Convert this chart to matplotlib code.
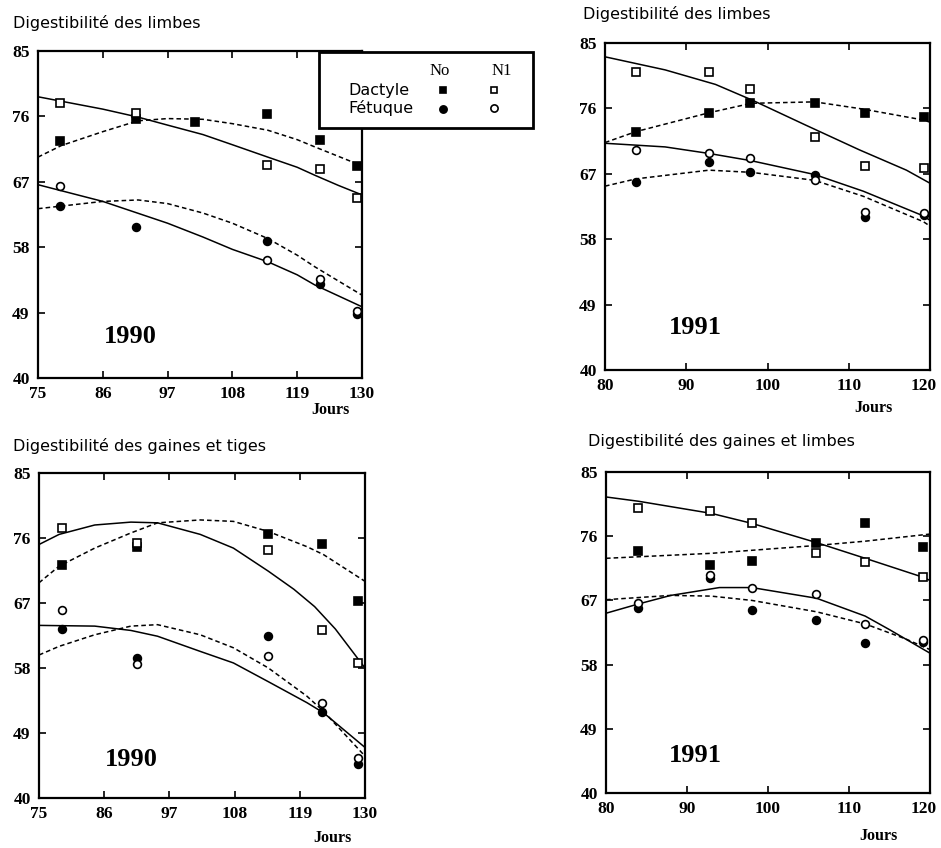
import matplotlib
matplotlib.use("Agg")
import matplotlib.pyplot as plt
import matplotlib.transforms as mtransforms
from matplotlib.lines import Line2D
from matplotlib.patches import Rectangle

W, H = 941, 848

# ---------------- data ----------------
yticks = [40, 49, 58, 67, 76, 85]
xticks_1990 = [75, 86, 97, 108, 119, 130]
xticks_1991 = [80, 90, 100, 110, 120]

# Panel A : 1990, digestibilité des limbes
A_D_No_x = [78.7, 91.7, 101.6, 113.8, 122.9, 129.1]
A_D_No_y = [72.6, 75.6, 75.2, 76.3, 72.7, 69.2]
A_D_N1_x = [78.7, 91.7, 113.8, 122.9, 129.1]
A_D_N1_y = [77.8, 76.5, 69.3, 68.8, 64.8]
A_F_No_x = [78.7, 91.7, 113.8, 122.9, 129.1]
A_F_No_y = [63.7, 60.8, 58.9, 53.0, 48.8]
A_F_N1_x = [78.7, 113.8, 122.9, 129.1]
A_F_N1_y = [66.4, 56.2, 53.6, 49.2]
A_cD_N1_x = [75, 86, 92, 97, 103, 108, 114, 119, 122, 126, 130]
A_cD_N1_y = [78.7, 77.0, 75.9, 74.8, 73.5, 72.1, 70.4, 69.0, 67.9, 66.5, 65.2]
A_cD_No_x = [75, 79, 86, 92, 97, 103, 108, 114, 119, 122, 130]
A_cD_No_y = [70.4, 72.0, 73.9, 75.4, 75.7, 75.6, 75.0, 74.1, 72.8, 71.8, 69.2]
A_cF_N1_x = [75, 86, 97, 103, 108, 114, 119, 122, 130]
A_cF_N1_y = [66.6, 64.3, 61.3, 59.4, 57.7, 56.0, 54.2, 52.8, 49.8]
A_cF_No_x = [75, 86, 92, 97, 103, 108, 114, 119, 122, 130]
A_cF_No_y = [63.3, 64.3, 64.5, 64.0, 62.7, 61.3, 59.2, 56.9, 55.3, 51.4]

# Panel B : 1991, digestibilité des limbes
B_x = [83.8, 92.8, 97.9, 105.9, 112.0, 119.2]
B_D_No_y = [72.8, 75.4, 76.8, 76.8, 75.4, 74.8]
B_D_N1_y = [81.0, 81.0, 78.7, 72.0, 68.1, 67.8]
B_F_No_y = [65.9, 68.6, 67.2, 66.8, 61.0, 61.3]
B_F_N1_y = [70.3, 69.9, 69.2, 66.2, 61.8, 61.6]
B_cD_N1_x = [80, 87.4, 93.6, 98.2, 104.7, 111.3, 117.1, 120]
B_cD_N1_y = [83.1, 81.3, 79.3, 77.1, 73.7, 70.3, 67.5, 65.7]
B_cD_No_x = [80, 83.8, 92.8, 98, 105.8, 111.8, 119.2, 120]
B_cD_No_y = [71.3, 72.8, 75.4, 76.7, 76.9, 75.9, 74.4, 74.1]
B_cF_N1_x = [80, 87.4, 92.8, 98, 105.8, 111.8, 119.2, 120]
B_cF_N1_y = [71.2, 70.7, 69.8, 68.8, 66.9, 64.6, 61.2, 60.6]
B_cF_No_x = [80, 83.8, 92.8, 98, 105.8, 111.8, 119.2, 120]
B_cF_No_y = [65.3, 66.3, 67.5, 67.2, 66.1, 63.9, 60.4, 59.8]

# Panel C : 1990, digestibilité des gaines et tiges
C_x = [78.8, 91.6, 113.7, 122.8, 128.9]
C_D_No_y = [72.3, 74.8, 76.6, 75.2, 67.3]
C_D_N1_y = [77.4, 75.3, 74.4, 63.3, 58.7]
C_F_No_y = [63.4, 59.4, 62.4, 51.9, 44.7]
C_F_N1_y = [66.1, 58.5, 59.6, 53.2, 45.5]
C_cD_N1_x = [75, 78.4, 84.4, 90.5, 95, 102.2, 107.8, 113.7, 118, 121.5, 125, 130]
C_cD_N1_y = [75.1, 76.5, 77.8, 78.2, 78.1, 76.5, 74.6, 71.4, 68.9, 66.5, 63.4, 58.0]
C_cD_No_x = [75, 78.4, 84.4, 90.5, 95, 102.2, 107.8, 113.7, 120.2, 123, 130]
C_cD_No_y = [69.8, 72.1, 74.6, 76.7, 78.1, 78.5, 78.3, 76.9, 74.8, 73.7, 70.0]
C_cF_N1_x = [75, 84.4, 90.5, 95, 102.2, 107.8, 113.7, 120.2, 123, 130]
C_cF_N1_y = [63.9, 63.8, 63.2, 62.4, 60.3, 58.7, 56.1, 53.2, 51.8, 47.0]
C_cF_No_x = [75, 78.4, 84.4, 90.5, 95, 102.2, 107.8, 113.7, 120.2, 123, 130]
C_cF_No_y = [59.8, 61.0, 62.6, 63.8, 64.0, 62.6, 60.8, 58.0, 54.1, 52.0, 45.8]

# Panel D : 1991, digestibilité des gaines et limbes
D_x = [83.9, 92.9, 98.0, 105.9, 112.0, 119.1]
D_D_No_y = [73.9, 72.0, 72.5, 75.1, 77.9, 74.5]
D_D_N1_y = [80.0, 79.6, 77.9, 73.6, 72.4, 70.3]
D_F_No_y = [65.9, 70.2, 65.7, 64.3, 61.0, 61.2]
D_F_N1_y = [66.7, 70.5, 68.7, 67.9, 63.7, 61.5]
D_cD_N1_x = [80, 84, 93, 98, 106, 112, 119, 120]
D_cD_N1_y = [81.5, 80.9, 79.2, 77.8, 75.1, 72.9, 70.3, 69.8]
D_cD_No_x = [80, 93, 106, 112, 120]
D_cD_No_y = [72.9, 73.6, 74.7, 75.3, 76.3]
D_cF_N1_x = [80, 84, 88, 94, 98, 106, 112, 115, 120]
D_cF_N1_y = [65.2, 66.5, 67.7, 68.8, 68.8, 67.3, 64.8, 62.9, 59.6]
D_cF_No_x = [80, 88, 93, 98, 106, 112, 117, 120]
D_cF_No_y = [67.1, 67.7, 67.6, 67.0, 65.4, 63.7, 61.6, 60.1]

titles = ["Digestibilité des limbes", "Digestibilité des limbes",
          "Digestibilité des gaines et tiges", "Digestibilité des gaines et limbes"]
years = ["1990", "1991", "1990", "1991"]

# ---------------- figure ----------------
fig = plt.figure(figsize=(W / 100, H / 100), dpi=100)
fig.patch.set_facecolor("white")

def fx(px):
    return px / W

def fy(py):
    return 1 - py / H

serif = "Liberation Serif"
sans = "DejaVu Sans"

# axes boxes in pixel coords: left, top, right, bottom
boxes = [(38, 51, 362, 378), (605, 43, 930, 370), (39, 473, 365, 798), (606, 472, 930, 793)]
xlims = [(75, 130), (80, 120), (75, 130), (80, 120)]
xtick_sets = [xticks_1990, xticks_1991, xticks_1990, xticks_1991]

panels = [
    dict(pts=[(A_D_No_x, A_D_No_y, "s", True), (A_D_N1_x, A_D_N1_y, "s", False),
              (A_F_No_x, A_F_No_y, "o", True), (A_F_N1_x, A_F_N1_y, "o", False)],
         curves=[(A_cD_N1_x, A_cD_N1_y, "-"), (A_cD_No_x, A_cD_No_y, "--"),
                 (A_cF_N1_x, A_cF_N1_y, "-"), (A_cF_No_x, A_cF_No_y, "--")]),
    dict(pts=[(B_x, B_D_No_y, "s", True), (B_x, B_D_N1_y, "s", False),
              (B_x, B_F_No_y, "o", True), (B_x, B_F_N1_y, "o", False)],
         curves=[(B_cD_N1_x, B_cD_N1_y, "-"), (B_cD_No_x, B_cD_No_y, "--"),
                 (B_cF_N1_x, B_cF_N1_y, "-"), (B_cF_No_x, B_cF_No_y, "--")]),
    dict(pts=[(C_x, C_D_No_y, "s", True), (C_x, C_D_N1_y, "s", False),
              (C_x, C_F_No_y, "o", True), (C_x, C_F_N1_y, "o", False)],
         curves=[(C_cD_N1_x, C_cD_N1_y, "-"), (C_cD_No_x, C_cD_No_y, "--"),
                 (C_cF_N1_x, C_cF_N1_y, "-"), (C_cF_No_x, C_cF_No_y, "--")]),
    dict(pts=[(D_x, D_D_No_y, "s", True), (D_x, D_D_N1_y, "s", False),
              (D_x, D_F_No_y, "o", True), (D_x, D_F_N1_y, "o", False)],
         curves=[(D_cD_N1_x, D_cD_N1_y, "-"), (D_cD_No_x, D_cD_No_y, "--"),
                 (D_cF_N1_x, D_cF_N1_y, "-"), (D_cF_No_x, D_cF_No_y, "--")]),
]

title_pos = [(13, 28), (583, 19.5), (13, 450.5), (588, 446.5)]
jours_pos = [(330, 410), (873, 408), (332, 838), (878, 836)]
year_pos = [(0.284, 0.128), (0.277, 0.131), (0.282, 0.12), (0.275, 0.118)]

for i, (l, t, r, b) in enumerate(boxes):
    ax = fig.add_axes([fx(l), fy(b), fx(r) - fx(l), (b - t) / H])
    ax.set_xlim(*xlims[i])
    ax.set_ylim(40, 85)
    ax.set_xticks(xtick_sets[i])
    ax.set_yticks(yticks)
    ax.tick_params(direction="in", top=True, right=True, length=5, width=1.2,
                   labelsize=12.5, pad=6)
    for lab in ax.get_xticklabels() + ax.get_yticklabels():
        lab.set_fontfamily(serif)
        lab.set_fontweight("bold")
    if xlims[i][1] == 120:
        # keep the last label inside the figure
        last = ax.get_xticklabels()[-1]
        last.set_transform(last.get_transform() +
                           mtransforms.ScaledTranslation(-6 / 100, 0, fig.dpi_scale_trans))
    for sp in ax.spines.values():
        sp.set_linewidth(1.6)

    for cx, cy, ls in panels[i]["curves"]:
        if ls == "--":
            ax.plot(cx, cy, color="black", lw=1.1, ls=(0, (3, 2)))
        else:
            ax.plot(cx, cy, color="black", lw=1.1)
    for px_, py_, mk, filled in panels[i]["pts"]:
        ax.plot(px_, py_, ls="none", marker=mk, ms=5.4 if mk == "s" else 5.6,
                mfc="black" if filled else "white", mec="black", mew=1.2,
                clip_on=False, zorder=5)

    ax.text(year_pos[i][0], year_pos[i][1], years[i], transform=ax.transAxes,
            ha="center", va="center", fontsize=19, fontweight="bold", family=serif)

    fig.text(fx(title_pos[i][0]), fy(title_pos[i][1]), titles[i], ha="left",
             va="baseline", fontsize=11.5, family=sans)
    fig.text(fx(jours_pos[i][0]), fy(jours_pos[i][1]), "Jours", ha="center",
             va="center", fontsize=11.5, fontweight="bold", family=serif)

# ---------------- legend box ----------------
rect = Rectangle((fx(319), fy(128)), (533 - 319) / W, (128 - 52) / H,
                 transform=fig.transFigure, facecolor="white", edgecolor="black",
                 lw=2.0, zorder=10)
fig.add_artist(rect)
fig.text(fx(440), fy(71), "No", ha="center", va="center", fontsize=12,
         family=serif, zorder=11)
fig.text(fx(502), fy(71), "N1", ha="center", va="center", fontsize=12,
         family=serif, zorder=11)
fig.text(fx(348), fy(95.5), "Dactyle", ha="left", va="baseline", fontsize=11.5,
         family=sans, zorder=11)
fig.text(fx(348), fy(113.5), "Fétuque", ha="left", va="baseline", fontsize=11.5,
         family=sans, zorder=11)
for mx, my, mk, filled in [(443, 90, "s", True), (494, 90, "s", False),
                           (443, 109, "o", True), (494, 108, "o", False)]:
    fig.add_artist(Line2D([fx(mx)], [fy(my)], transform=fig.transFigure, ls="none",
                          marker=mk, ms=5 if mk == "s" else 5.2,
                          mfc="black" if filled else "white", mec="black",
                          mew=1.2, zorder=12))

fig.savefig("out.png", dpi=100, facecolor="white")
